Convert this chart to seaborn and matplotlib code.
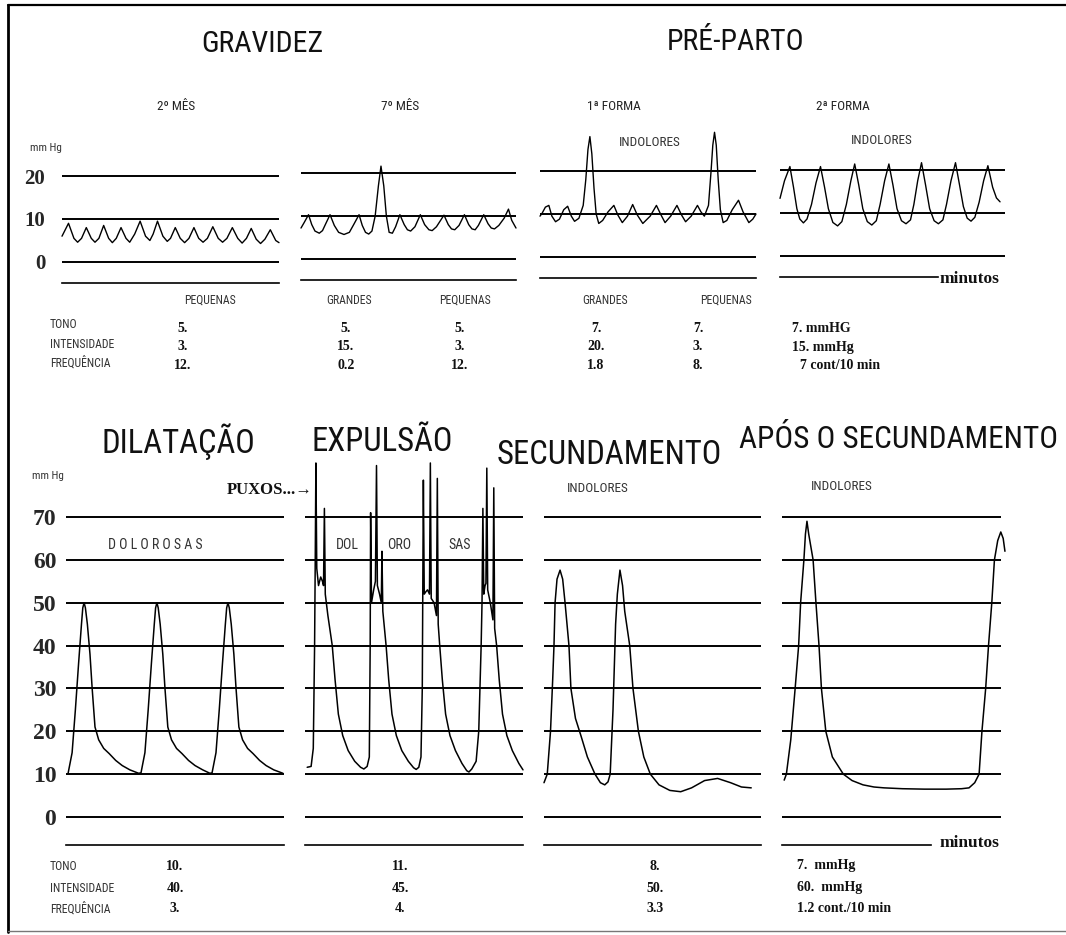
import os
import numpy as np
import pandas as pd
import seaborn as sns
import matplotlib
matplotlib.use("Agg")
import matplotlib.pyplot as plt
from matplotlib import font_manager as fm
from matplotlib.lines import Line2D

W, H = 1066, 935

# ----------------------------------------------------------------- data
top_levels = [0, 10, 20]
top_level_labels = ["0", "10", "20"]
bottom_levels = [0, 10, 20, 30, 40, 50, 60, 70]
bottom_level_labels = ["0", "10", "20", "30", "40", "50", "60", "70"]

# (minutes, mmHg) read from the tracings
gravidez_2mes = [(0.00, 6.0), (0.30, 9.0), (0.55, 5.5), (0.72, 4.6), (0.90, 5.5), (1.12, 8.0),
                 (1.35, 5.5), (1.52, 4.6), (1.70, 5.5), (1.92, 8.5), (2.15, 5.5), (2.32, 4.5),
                 (2.50, 5.5), (2.72, 8.0), (2.95, 5.5), (3.12, 4.6), (3.35, 6.5), (3.60, 9.5),
                 (3.85, 6.0), (4.05, 5.0), (4.20, 6.5), (4.40, 9.5), (4.65, 6.0), (4.85, 4.8),
                 (5.00, 5.5), (5.22, 8.0), (5.45, 5.5), (5.65, 4.5), (5.85, 5.5), (6.08, 8.0),
                 (6.30, 5.5), (6.50, 4.6), (6.70, 5.5), (6.95, 8.2), (7.20, 5.5), (7.40, 4.6),
                 (7.60, 5.5), (7.85, 8.0), (8.10, 5.5), (8.30, 4.4), (8.50, 5.5), (8.72, 7.8),
                 (8.95, 5.3), (9.15, 4.3), (9.35, 5.3), (9.60, 7.5), (9.85, 5.0), (10.0, 4.5)]

gravidez_7mes = [(0.00, 7.2), (0.15, 8.5), (0.35, 10.3), (0.50, 8.0), (0.65, 6.5), (0.85, 6.0),
                 (1.00, 6.6), (1.15, 8.2), (1.35, 10.3), (1.55, 7.8), (1.75, 6.2), (2.00, 5.7),
                 (2.25, 6.2), (2.45, 8.0), (2.70, 10.3), (2.85, 7.8), (3.00, 6.2), (3.15, 5.8),
                 (3.30, 6.5), (3.45, 10.0), (3.60, 17.0), (3.72, 21.6), (3.85, 17.0), (3.97, 10.0),
                 (4.10, 6.2), (4.25, 6.0), (4.40, 7.5), (4.60, 10.3), (4.80, 8.0), (4.95, 6.8),
                 (5.10, 6.5), (5.30, 7.5), (5.55, 10.3), (5.75, 8.0), (5.95, 6.8), (6.10, 6.6),
                 (6.30, 7.5), (6.65, 10.2), (6.85, 8.0), (7.00, 7.0), (7.15, 6.8), (7.35, 7.8),
                 (7.60, 10.3), (7.80, 8.0), (7.95, 7.0), (8.10, 6.8), (8.25, 7.8), (8.50, 10.3),
                 (8.70, 8.2), (8.85, 7.2), (9.00, 7.0), (9.20, 7.8), (9.45, 9.5), (9.65, 11.6),
                 (9.80, 9.0), (10.0, 7.2)]

preparto_1forma = [(0.00, 9.5), (0.10, 10.2), (0.25, 11.6), (0.41, 12.0), (0.55, 9.5), (0.72, 8.2),
                   (0.90, 8.8), (1.10, 11.0), (1.28, 11.8), (1.45, 9.5), (1.60, 8.3), (1.80, 9.0),
                   (2.00, 12.0), (2.12, 18.0), (2.22, 25.0), (2.31, 28.0), (2.40, 24.0), (2.50, 16.0),
                   (2.60, 10.0), (2.72, 7.8), (2.90, 8.5), (3.15, 10.5), (3.42, 12.0), (3.60, 9.8),
                   (3.81, 8.0), (4.05, 9.5), (4.29, 12.2), (4.50, 9.8), (4.76, 7.8), (5.10, 9.5),
                   (5.39, 12.0), (5.60, 9.8), (5.79, 8.0), (6.05, 9.5), (6.34, 12.0), (6.55, 9.8),
                   (6.74, 8.2), (7.00, 9.5), (7.29, 12.0), (7.45, 10.5), (7.61, 9.5), (7.80, 12.0),
                   (7.92, 20.0), (8.00, 26.0), (8.08, 29.0), (8.16, 26.0), (8.25, 18.0), (8.35, 11.0),
                   (8.48, 8.0), (8.65, 8.5), (8.90, 11.0), (9.19, 13.2), (9.40, 10.5), (9.67, 8.0),
                   (9.85, 8.8), (10.0, 10.0)]

preparto_2forma = [(0.00, 13.4), (0.20, 17.5), (0.44, 20.8), (0.60, 16.0), (0.75, 11.0), (0.88, 8.6),
                   (1.04, 7.7), (1.20, 8.6), (1.40, 12.0), (1.60, 17.0), (1.80, 20.8), (1.98, 16.0),
                   (2.15, 11.0), (2.35, 7.8), (2.56, 7.0), (2.75, 8.0), (2.95, 12.0), (3.15, 17.5),
                   (3.32, 21.4), (3.50, 16.5), (3.68, 11.0), (3.88, 8.0), (4.08, 7.2), (4.28, 8.2),
                   (4.45, 12.0), (4.65, 17.5), (4.84, 21.4), (5.02, 16.5), (5.20, 11.0), (5.40, 8.2),
                   (5.60, 7.5), (5.80, 8.4), (5.95, 12.0), (6.12, 17.5), (6.29, 21.7), (6.47, 16.5),
                   (6.65, 11.0), (6.85, 8.2), (7.04, 7.5), (7.24, 8.4), (7.40, 12.0), (7.60, 17.5),
                   (7.80, 21.7), (7.98, 16.5), (8.15, 11.5), (8.32, 8.8), (8.49, 8.1), (8.66, 9.0),
                   (8.85, 12.5), (9.05, 17.5), (9.24, 21.0), (9.45, 16.0), (9.62, 13.5), (9.78, 12.6)]

dilatacao = [(0.10, 10.3), (0.28, 15.0), (0.43, 25.0), (0.58, 36.0), (0.71, 45.0), (0.77, 48.8),
             (0.83, 50.0), (0.89, 48.8), (0.98, 45.0), (1.10, 38.0), (1.20, 30.0), (1.33, 21.0),
             (1.50, 18.0), (1.73, 16.0), (1.98, 14.8), (2.28, 13.2), (2.58, 12.0), (2.93, 11.0),
             (3.33, 10.2), (3.44, 10.3), (3.62, 15.0), (3.77, 25.0), (3.92, 36.0), (4.05, 45.0),
             (4.11, 48.8), (4.17, 50.0), (4.23, 48.8), (4.32, 45.0), (4.44, 38.0), (4.54, 30.0),
             (4.67, 21.0), (4.84, 18.0), (5.07, 16.0), (5.32, 14.8), (5.62, 13.2), (5.92, 12.0),
             (6.27, 11.0), (6.60, 10.2), (6.70, 10.3), (6.88, 15.0), (7.03, 25.0), (7.18, 36.0),
             (7.31, 45.0), (7.37, 48.8), (7.43, 50.0), (7.49, 48.8), (7.58, 45.0), (7.70, 38.0),
             (7.80, 30.0), (7.93, 21.0), (8.10, 18.0), (8.33, 16.0), (8.58, 14.8), (8.88, 13.2),
             (9.18, 12.0), (9.53, 11.0), (9.95, 10.2)]

expulsao = [(0.10, 11.6), (0.28, 11.8), (0.38, 16.0), (0.44, 40.0), (0.47, 60.0), (0.50, 82.6),
            (0.54, 58.0), (0.62, 54.0), (0.72, 56.0), (0.80, 55.0), (0.85, 54.0), (0.89, 72.0),
            (0.93, 52.0), (1.05, 47.0), (1.25, 40.0), (1.38, 32.0), (1.53, 24.0), (1.73, 19.0),
            (1.98, 15.5), (2.28, 13.0), (2.55, 11.6), (2.70, 11.2), (2.85, 11.8), (2.95, 14.0),
            (2.99, 40.0), (3.01, 71.0), (3.05, 50.0), (3.15, 53.0), (3.23, 55.0), (3.28, 82.0),
            (3.32, 54.0), (3.42, 52.0), (3.50, 50.0), (3.53, 62.0), (3.57, 48.0), (3.72, 40.0),
            (3.84, 32.0), (3.99, 24.0), (4.19, 19.0), (4.44, 15.5), (4.74, 13.0), (4.98, 11.5),
            (5.10, 11.1), (5.22, 11.6), (5.32, 14.0), (5.38, 30.0), (5.40, 50.0), (5.43, 78.6),
            (5.47, 52.0), (5.55, 52.6), (5.62, 53.0), (5.71, 52.0), (5.75, 82.6), (5.79, 51.0),
            (5.92, 50.0), (6.03, 47.0), (6.07, 79.0), (6.11, 45.0), (6.18, 40.0), (6.30, 32.0),
            (6.45, 24.0), (6.65, 19.0), (6.90, 15.5), (7.20, 12.5), (7.42, 10.8), (7.52, 10.5),
            (7.65, 11.2), (7.85, 13.0), (7.97, 20.0), (8.08, 40.0), (8.12, 50.0), (8.16, 72.0),
            (8.20, 52.0), (8.26, 54.0), (8.30, 54.5), (8.34, 81.4), (8.38, 53.0), (8.50, 50.0),
            (8.62, 46.0), (8.66, 76.8), (8.70, 44.0), (8.79, 40.0), (8.91, 32.0), (9.06, 24.0),
            (9.26, 19.0), (9.51, 15.5), (9.81, 12.5), (10.0, 11.0)]

secundamento = [(0.00, 8.0), (0.15, 10.0), (0.30, 20.0), (0.40, 32.0), (0.46, 40.0), (0.51, 50.0),
                (0.60, 55.5), (0.74, 57.6), (0.86, 55.5), (0.97, 50.0), (1.15, 40.0), (1.24, 30.0),
                (1.45, 23.0), (1.70, 19.0), (2.00, 14.0), (2.35, 10.0), (2.60, 8.0), (2.80, 7.5),
                (2.95, 8.2), (3.05, 10.0), (3.18, 25.0), (3.30, 45.0), (3.38, 52.0), (3.50, 57.6),
                (3.62, 54.0), (3.72, 48.0), (3.95, 40.0), (4.10, 30.0), (4.35, 20.0), (4.60, 14.0),
                (4.90, 10.0), (5.30, 7.5), (5.80, 6.2), (6.30, 5.9), (6.80, 6.8), (7.40, 8.5),
                (8.00, 9.0), (8.60, 8.0), (9.10, 7.0), (9.55, 6.8)]

apos_secundamento = [(0.10, 8.6), (0.20, 10.0), (0.40, 18.0), (0.60, 30.0), (0.76, 40.0), (0.85, 50.0),
                     (1.00, 60.0), (1.07, 66.0), (1.14, 69.0), (1.22, 66.0), (1.42, 60.0), (1.55, 50.0),
                     (1.69, 40.0), (1.80, 30.0), (2.00, 20.0), (2.30, 14.0), (2.80, 10.0), (3.20, 8.5),
                     (3.70, 7.5), (4.20, 7.0), (4.66, 6.8), (5.50, 6.6), (6.50, 6.5), (7.50, 6.5),
                     (8.20, 6.6), (8.54, 6.8), (8.80, 8.0), (9.00, 10.0), (9.13, 20.0), (9.30, 30.0),
                     (9.43, 40.0), (9.58, 50.0), (9.70, 60.0), (9.85, 64.5), (9.99, 66.5), (10.10, 65.0),
                     (10.18, 62.0)]

top_titles = ["GRAVIDEZ", "PRÉ-PARTO"]
top_subtitles = ["2º MÊS", "7º MÊS", "1ª FORMA", "2ª FORMA"]
bottom_titles = ["DILATAÇÃO", "EXPULSÃO", "SECUNDAMENTO", "APÓS O SECUNDAMENTO"]

row_labels = ["TONO", "INTENSIDADE", "FREQUÊNCIA"]
top_headers = ["PEQUENAS", "GRANDES", "PEQUENAS", "GRANDES", "PEQUENAS"]
top_table = [["5.", "5.", "5.", "7.", "7.", "7. mmHG"],
             ["3.", "15.", "3.", "20.", "3.", "15. mmHg"],
             ["12.", "0.2", "12.", "1.8", "8.", "7 cont/10 min"]]
bottom_table = [["10.", "11.", "8.", "7.  mmHg"],
                ["40.", "45.", "50.", "60.  mmHg"],
                ["3.", "4.", "3.3", "1.2 cont./10 min"]]

# ----------------------------------------------------------------- fonts
def pick(names):
    for n in names:
        try:
            fm.findfont(fm.FontProperties(family=n), fallback_to_default=False)
            return n
        except Exception:
            pass
    return "DejaVu Sans"

SANS = pick(["Liberation Sans", "DejaVu Sans"])
SERIF = pick(["Liberation Serif", "DejaVu Serif"])

def find_condensed():
    prefs = ["liberationsansnarrow-regular", "arialnarrow", "robotocondensed-regular",
             "dejavusanscondensed.", "opensans-condensed", "notosans-condensed"]
    files = [f.fname for f in fm.fontManager.ttflist]
    for p in prefs:
        for fn in files:
            if p in os.path.basename(fn).lower().replace(" ", ""):
                return fn
    for fn in files:
        b = os.path.basename(fn).lower()
        if ("narrow" in b or "condensed" in b) and not any(
                k in b for k in ("bold", "italic", "oblique", "light", "thin", "black", "medium", "semi")):
            return fn
    return None

COND = find_condensed()

def cond(size):
    if COND:
        return fm.FontProperties(fname=COND, size=size)
    return fm.FontProperties(family=SANS, size=size * 0.84)

sns.set_style("white")
plt.rcParams["font.family"] = [SANS, "DejaVu Sans"]

fig = plt.figure(figsize=(W / 100, H / 100), dpi=100)
fig.patch.set_facecolor("white")

def ftext(x, y, s, **kw):
    kw.setdefault("va", "center")
    kw.setdefault("ha", "center")
    return fig.text(x / W, 1 - y / H, s, **kw)

def panel(x0, x1, zero_px, ymin, ymax, ppu, levels, labels, data, ruler_y, ruler_len,
          show_labels=False, label_size=14, label_pad=10, lw=1.1):
    top_px = zero_px - ymax * ppu
    bot_px = zero_px - ymin * ppu
    ax = fig.add_axes([x0 / W, 1 - bot_px / H, (x1 - x0) / W, (bot_px - top_px) / H])
    ax.set_facecolor("none")
    df = pd.DataFrame(data, columns=["min", "mmHg"])
    sns.lineplot(data=df, x="min", y="mmHg", ax=ax, sort=False, estimator=None,
                 color="black", linewidth=lw, legend=False)
    for ln in ax.lines:
        ln.set_clip_on(False)
    ax.set_xlim(0, 10)
    ax.set_ylim(ymin, ymax)
    ax.set_xlabel("")
    ax.set_ylabel("")
    ax.set_yticks(levels)
    ax.yaxis.grid(True, color="black", linewidth=1.4)
    ax.xaxis.grid(False)
    ax.set_axisbelow(True)
    ax.tick_params(axis="y", length=0, pad=label_pad)
    if show_labels:
        ax.set_yticklabels(labels, fontfamily=SERIF, fontweight="bold", fontsize=label_size)
    else:
        ax.set_yticklabels([])
    for s in ["left", "right", "top"]:
        ax.spines[s].set_visible(False)
    sp = ax.spines["bottom"]
    sp.set_position(("data", ruler_y))
    sp.set_bounds(0, ruler_len)
    sp.set_color("black")
    sp.set_linewidth(1.2)
    majors = [m for m in (0, 5, 10) if m <= ruler_len + 1e-9]
    minors = [m for m in range(0, 11) if m <= ruler_len + 1e-9]
    ax.set_xticks(majors)
    ax.set_xticks(minors, minor=True)
    ax.tick_params(axis="x", which="both", direction="in", labelbottom=False,
                   color="black", width=1.0)
    ax.tick_params(axis="x", which="major", length=8)
    ax.tick_params(axis="x", which="minor", length=4)
    return ax

# top row (scale 4.3 px per mmHg)
TPP = 4.3
top_specs = [(62, 279, 262, gravidez_2mes, 10),
             (301, 516, 259, gravidez_7mes, 10),
             (540, 756, 257, preparto_1forma, 10),
             (780, 1005, 256, preparto_2forma, 7.0)]
for i, (x0, x1, z, d, rl) in enumerate(top_specs):
    panel(x0, x1, z, -8, 33, TPP, top_levels, top_level_labels, d, -4.9, rl,
          show_labels=(i == 0), label_size=15, label_pad=12, lw=1.0)

# bottom row (scale 4.286 px per mmHg)
BPP = 4.286
bottom_specs = [(66, 284, 817, dilatacao, 10),
                (305, 523, 817, expulsao, 10),
                (544, 761, 817, secundamento, 10),
                (782, 1001, 817, apos_secundamento, 6.8)]
for i, (x0, x1, z, d, rl) in enumerate(bottom_specs):
    panel(x0, x1, z, -9, 86, BPP, bottom_levels, bottom_level_labels, d, -6.5, rl,
          show_labels=(i == 0), label_size=17, label_pad=7, lw=1.1)

# ----------------------------------------------------------------- texts
ftext(262, 44, top_titles[0], fontproperties=cond(21.5), color="#111111")
ftext(736, 42, top_titles[1], fontproperties=cond(21.5), color="#111111")
for s, x in zip(top_subtitles, [176, 400, 614, 843]):
    ftext(x, 107, s, fontproperties=cond(9.5), color="#222222")

ftext(46, 148, "mm Hg", fontproperties=cond(8), color="#333333")
ftext(48, 476, "mm Hg", fontproperties=cond(8), color="#333333")
for x, y in [(650, 143), (882, 141), (598, 489), (842, 487)]:
    ftext(x, y, "INDOLORES", fontproperties=cond(9.5), color="#333333")
ftext(155, 545, "D O L O R O S A S", fontproperties=cond(10), color="#333333")
for s, x in zip(["DOL", "ORO", "SAS"], [347, 399, 460]):
    ftext(x, 545, s, fontproperties=cond(10), color="#333333")

ser = dict(fontfamily=[SERIF, "DejaVu Serif"], fontweight="bold", color="#111111")
ftext(940, 279, "minutos", ha="left", fontsize=12.5, **ser)
ftext(940, 843, "minutos", ha="left", fontsize=12.5, **ser)
ftext(313, 490, "PUXOS...→", ha="right", fontsize=12, **ser)

ftext(178, 442, bottom_titles[0], fontproperties=cond(23.5), color="#111111")
ftext(382, 442, bottom_titles[1], fontproperties=cond(23.5), color="#111111")
ftext(609, 455, bottom_titles[2], fontproperties=cond(23.5), color="#111111")
ftext(1058, 440, bottom_titles[3], ha="right", fontproperties=cond(22.5), color="#111111")

# top table
for s, x in zip(top_headers, [210, 349, 465, 605, 726]):
    ftext(x, 300, s, fontproperties=cond(8.5), color="#333333")
top_cols = [183, 346, 460, 596, 698]
for r, (name, y) in enumerate(zip(row_labels, [325, 344, 363])):
    ftext(50, y, name, ha="left", fontproperties=cond(8.5), color="#333333")
    vals = top_table[r]
    for v, x in zip(vals[:5], top_cols):
        ftext(x, y + 3, v, fontsize=10, **ser)
    ftext(792 + (8 if r == 2 else 0), y + 3, vals[5], ha="left", fontsize=10, **ser)

# bottom table
bot_cols = [175, 400, 655]
for r, (name, y) in enumerate(zip(row_labels, [866, 888, 909])):
    ftext(50, y, name, ha="left", fontproperties=cond(8.5), color="#333333")
    vals = bottom_table[r]
    for v, x in zip(vals[:3], bot_cols):
        ftext(x, y, v, fontsize=10, **ser)
    ftext(797, y, vals[3], ha="left", fontsize=10, **ser)

# frame of the scanned page
fig.add_artist(Line2D([8 / W, 8 / W], [1 - 5 / H, 1 - 932 / H], color="black", lw=2))
fig.add_artist(Line2D([8 / W, 1.0], [1 - 5 / H, 1 - 5 / H], color="black", lw=1.6))
fig.add_artist(Line2D([8 / W, 1.0], [1 - 931 / H, 1 - 931 / H], color="#777777", lw=1.0))

fig.savefig("out.png", dpi=100, facecolor="white")
